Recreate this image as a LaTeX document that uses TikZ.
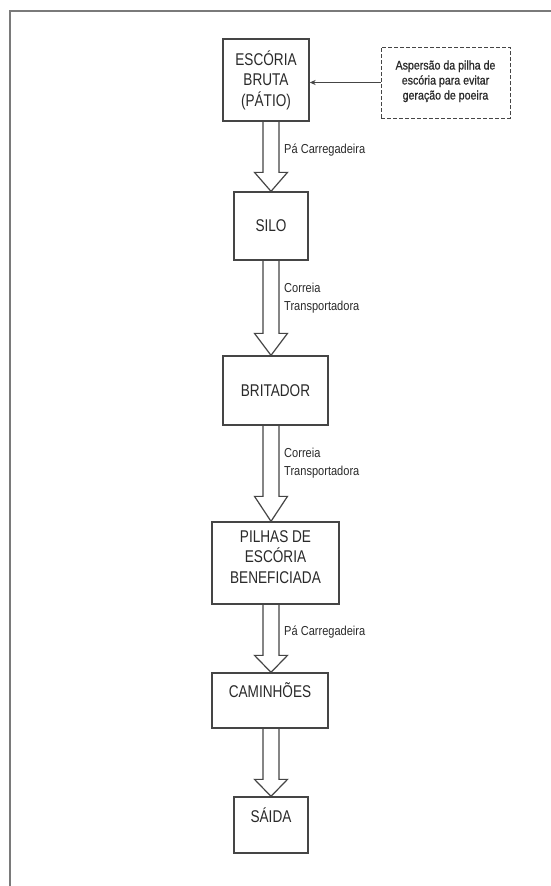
\documentclass[tikz,border=0pt]{standalone}
\usepackage{fontspec}
\usetikzlibrary{calc,arrows.meta}
\newfontfamily\boxfont[FakeStretch=0.8]{Liberation Sans}
\newfontfamily\lblfont[FakeStretch=0.85]{Liberation Sans}
\newfontfamily\notefont[FakeStretch=0.85,FakeBold=0.8]{Liberation Sans}
\definecolor{linec}{HTML}{454545}
\definecolor{textc}{HTML}{2A2A2A}
\definecolor{framec}{HTML}{7A7A7A}
\tikzset{
  stepbox/.style={draw=linec, line width=1.3pt, inner sep=0pt, align=center,
    text=textc, font=\boxfont\fontsize{17}{20.5}\selectfont},
  notebox/.style={draw=linec, line width=1pt, dashed, dash pattern=on 4pt off 2pt,
    inner sep=0pt, align=center, text=textc, font=\notefont\fontsize{12.5}{15}\selectfont},
  lbl/.style={anchor=west, inner sep=0pt, align=left, text=textc,
    font=\lblfont\fontsize{13}{18}\selectfont},
  hollowarrow/.style={draw=linec, line width=1.2pt, line join=miter},
  thinarrow/.style={draw=linec, line width=1pt, -{Stealth[length=6pt,width=5pt]}},
  framel/.style={draw=framec, line width=2pt}
}
\newcommand{\hollowarr}[3]{%
  \draw[hollowarrow] let \p1=(#1.south -| ax), \p2=(#2.north -| ax) in
    (\x1-8pt,\y1) -- (\x1-8pt,\y2+#3pt) -- (\x1-16.5pt,\y2+#3pt) -- (\x2,\y2)
    -- (\x1+16.5pt,\y2+#3pt) -- (\x1+8pt,\y2+#3pt) -- (\x1+8pt,\y1);}
\begin{document}
\begin{tikzpicture}[x=1pt,y=-1pt]
\useasboundingbox (0,0) rectangle (551,886);
\fill[white] (0,0) rectangle (551,886);
% frame
\coordinate (f0) at (10,11);
\coordinate (f1) at (551,11);
\coordinate (f2) at (10,886);
\draw[framel] (f1) -- (f0) -- (f2);
\coordinate (ax) at (271,0);
% boxes
\node[stepbox, minimum width=86pt, minimum height=82pt] (esc) at (266,80) {ESCÓRIA\\BRUTA\\(PÁTIO)};
\node[stepbox, minimum width=74pt, minimum height=68pt] (silo) at (271,226) {SILO};
\node[stepbox, minimum width=105pt, minimum height=69pt] (brit) at (275.5,390.5) {BRITADOR};
\node[stepbox, minimum width=127pt, minimum height=82pt] (pilhas) at (275.5,563) {PILHAS DE\\ESCÓRIA\\BENEFICIADA\\[-8pt]\mbox{}};
\node[stepbox, minimum width=116pt, minimum height=55pt] (cam) at (270,700.5) {CAMINHÕES\\\mbox{}};
\node[stepbox, minimum width=74pt, minimum height=56pt] (saida) at (271,825) {SÁIDA\\\mbox{}};
\node[notebox, minimum width=129pt, minimum height=71pt] (asp) at (445.5,82.5) {Aspersão da pilha de\\escória para evitar\\geração de poeira\\[-10pt]\mbox{}};
% connectors
\draw[thinarrow] (asp.west) -- (esc.east |- asp.west);
\hollowarr{esc}{silo}{19}
\hollowarr{silo}{brit}{22}
\hollowarr{brit}{pilhas}{25}
\hollowarr{pilhas}{cam}{17}
\hollowarr{cam}{saida}{17}
% labels
\node[lbl] (l1) at (284,150) {Pá Carregadeira};
\node[lbl] (l2) at (284,298.5) {Correia\\Transportadora};
\node[lbl] (l3) at (284,463) {Correia\\Transportadora};
\node[lbl] (l4) at (284,632) {Pá Carregadeira};
\end{tikzpicture}
\end{document}
